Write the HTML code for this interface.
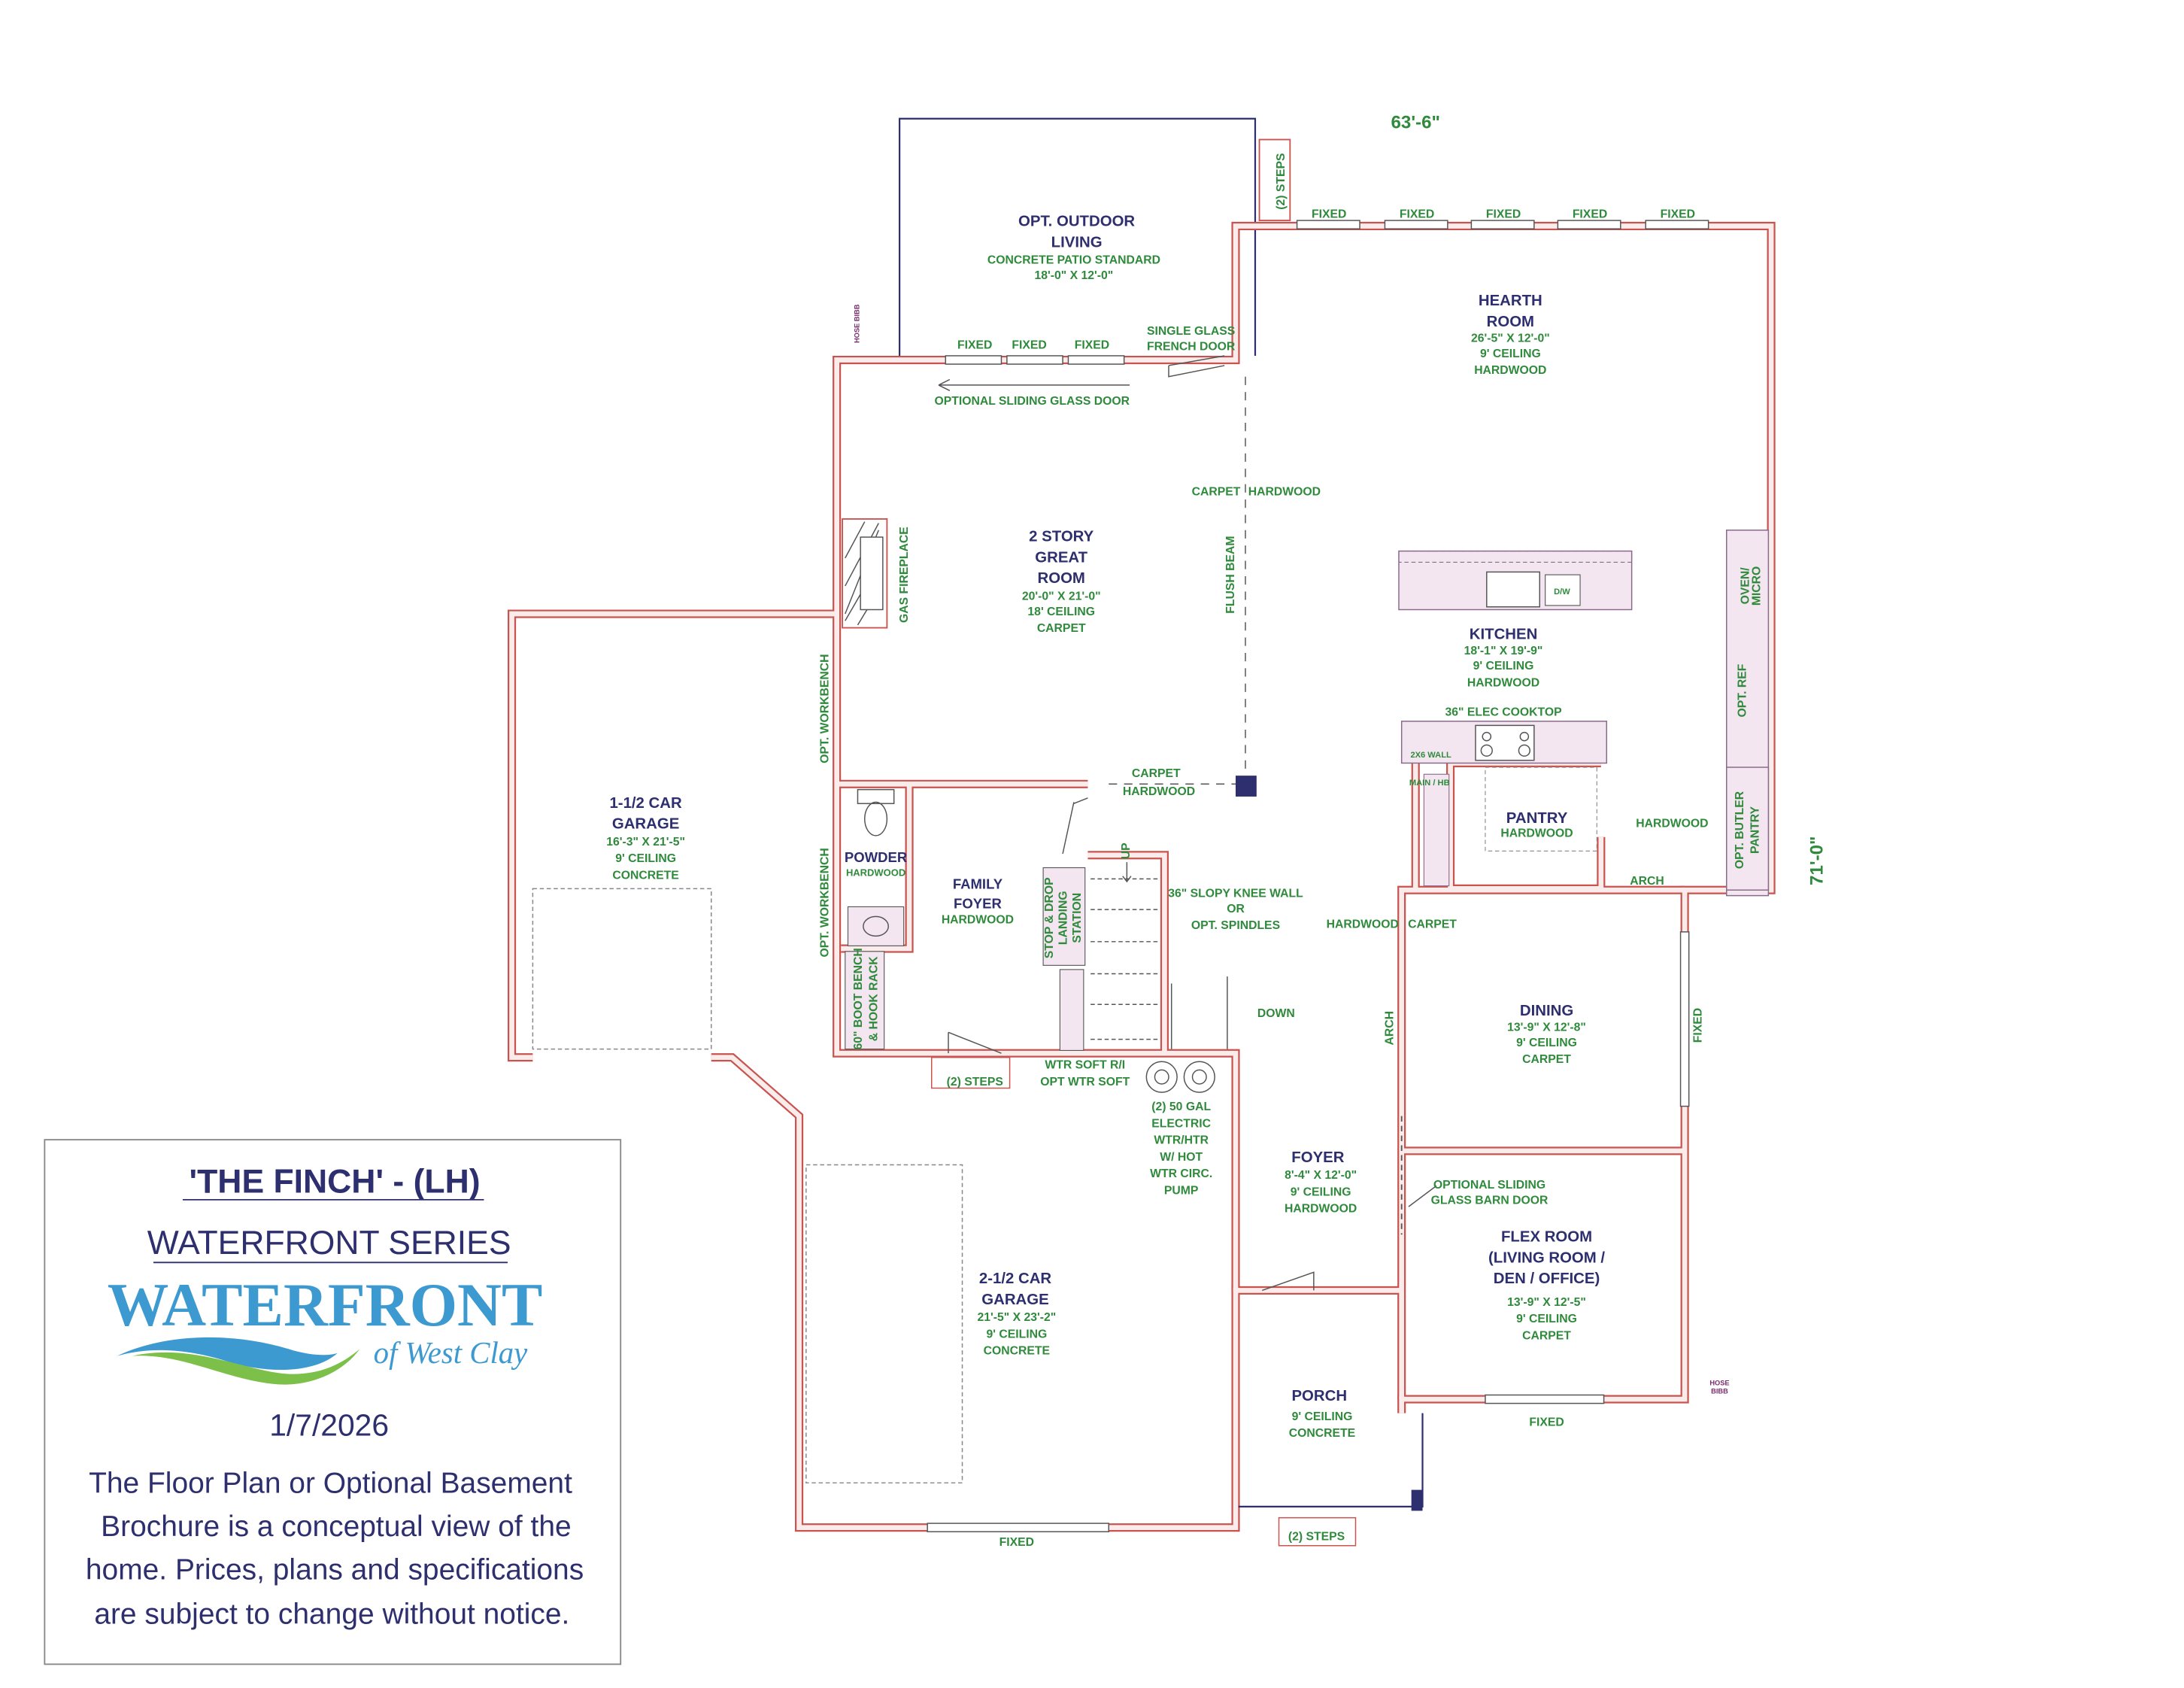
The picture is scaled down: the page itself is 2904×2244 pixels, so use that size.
<!DOCTYPE html>
<html><head><meta charset="utf-8"><style>
html,body{margin:0;padding:0;background:#fff}
svg{display:block}
.g{fill:#2f8a3c;font-family:"Liberation Sans Narrow","Liberation Sans",sans-serif;font-weight:bold;font-size:8.5px;text-anchor:middle}
.n{fill:#2e2f6e;font-family:"Liberation Sans Narrow","Liberation Sans",sans-serif;font-weight:bold;font-size:11px;text-anchor:middle}
.w{fill:none;stroke:#c9534f;stroke-width:6}
.wi{fill:none;stroke:#fbecec;stroke-width:3.6}
.t{fill:none;stroke:#555;stroke-width:0.8}
.d{fill:none;stroke:#555;stroke-width:0.8;stroke-dasharray:6 5}
</style></head><body>
<svg width="2904" height="2244" viewBox="0 0 1566 1210" xmlns="http://www.w3.org/2000/svg">
<rect width="1566" height="1210" fill="#fff"/>
<path d="M645,255 V85 H900 V255" fill="none" stroke="#2e2f6e" stroke-width="1.2"/>
<rect x="903" y="100" width="22" height="58" fill="none" stroke="#c9534f" stroke-width="1"/>
<g>
<path class="w" d="M600,440 V258 H886 V162 H1270 V638 H1208 V1003 H1005 V1013"/>
<path class="w" d="M1005,1003 V638 H1208"/>
<path class="w" d="M1005,825 H1208"/>
<path class="w" d="M600,440 H367 V758 H382 M510,758 H525 L573,800 V1095 H886 V925 H1005"/>
<path class="w" d="M600,440 V755 H886 V925"/>
<path class="w" d="M600,562 H780"/>
<path class="w" d="M652,562 V680 H603"/>
<path class="w" d="M780,613 H835 V755"/>
<path class="w" d="M1040,547 H1148 M1040,547 V637 H1148 V600"/>
<path class="w" d="M1015,547 V637"/>
</g>
<g>
<path class="wi" d="M600,440 V258 H886 V162 H1270 V638 H1208 V1003 H1005 V1013"/>
<path class="wi" d="M1005,1003 V638 H1208"/>
<path class="wi" d="M1005,825 H1208"/>
<path class="wi" d="M600,440 H367 V758 H382 M510,758 H525 L573,800 V1095 H886 V925 H1005"/>
<path class="wi" d="M600,440 V755 H886 V925"/>
<path class="wi" d="M600,562 H780"/>
<path class="wi" d="M652,562 V680 H603"/>
<path class="wi" d="M780,613 H835 V755"/>
<path class="wi" d="M1040,547 H1148 M1040,547 V637 H1148 V600"/>
<path class="wi" d="M1015,547 V637"/>
</g>
<rect x="382" y="637" width="128" height="115" fill="none" stroke="#888" stroke-width="0.8" stroke-dasharray="3 2"/>
<rect x="578" y="835" width="112" height="228" fill="none" stroke="#888" stroke-width="0.8" stroke-dasharray="3 2"/>
<g fill="#fff" stroke="#555" stroke-width="0.8">
<rect x="930" y="158" width="45" height="6"/><rect x="993" y="158" width="45" height="6"/><rect x="1055" y="158" width="45" height="6"/><rect x="1117" y="158" width="45" height="6"/><rect x="1180" y="158" width="45" height="6"/>
<rect x="678" y="255" width="40" height="6"/><rect x="722" y="255" width="40" height="6"/><rect x="766" y="255" width="40" height="6"/>
<rect x="1065" y="1000" width="85" height="6"/><rect x="665" y="1092" width="130" height="6"/>
<rect x="1205" y="668" width="6" height="125"/>
</g>
<path d="M673,276 H810 M673,276 l8,-4 M673,276 l8,4" class="t"/>
<path d="M838,262 L878,255 M838,262 V270 L878,262" class="t" stroke="#2e2f6e"/>
<rect x="604" y="372" width="32" height="78" fill="none" stroke="#c9534f" stroke-width="1"/>
<path d="M606,440 L630,380 M606,420 L630,375 M606,400 L620,374 M606,445 L632,400 M615,448 L632,420" class="t"/>
<rect x="617" y="385" width="16" height="52" fill="#fff" stroke="#555" stroke-width="0.8"/>
<path d="M893,270 V555" class="d" stroke="#333"/>
<path d="M795,562 H893" class="d" stroke="#333"/>
<rect x="886" y="556" width="15" height="15" fill="#2e2f6e"/>
<rect x="1012" y="1068" width="8" height="15" fill="#2e2f6e"/>
<path d="M1020,1013 V1080 H888" fill="none" stroke="#2e2f6e" stroke-width="1.2"/>
<rect x="1003" y="395" width="167" height="42" fill="#f3e6f1" stroke="#8a6a8a" stroke-width="0.8"/>
<rect x="1003" y="395" width="167" height="8" fill="none" stroke="#8a6a8a" stroke-width="0.6" stroke-dasharray="3 2"/>
<rect x="1066" y="410" width="38" height="25" fill="#fff" stroke="#555" stroke-width="0.8"/>
<rect x="1108" y="412" width="25" height="22" fill="#fff" stroke="#555" stroke-width="0.6"/>
<text class="g" x="1120" y="426" style="font-size:6px">D/W</text>
<rect x="1005" y="517" width="147" height="30" fill="#f3e6f1" stroke="#8a6a8a" stroke-width="0.8"/>
<rect x="1058" y="520" width="42" height="25" fill="#fff" stroke="#555" stroke-width="0.8"/>
<circle cx="1066" cy="538" r="4" class="t"/><circle cx="1093" cy="538" r="4" class="t"/><circle cx="1066" cy="528" r="3" class="t"/><circle cx="1093" cy="528" r="3" class="t"/>
<rect x="1238" y="380" width="30" height="262" fill="#f3e6f1" stroke="#8a6a8a" stroke-width="0.8"/>
<rect x="1238" y="550" width="30" height="88" fill="#f3e6f1" stroke="#8a6a8a" stroke-width="0.8"/>
<rect x="1021" y="555" width="18" height="80" fill="#f3e6f1" stroke="#8a6a8a" stroke-width="0.6"/>
<rect x="1065" y="550" width="80" height="60" fill="none" stroke="#888" stroke-width="0.6" stroke-dasharray="3 2"/>
<rect x="615" y="566" width="26" height="10" class="t"/><ellipse cx="628" cy="587" rx="8" ry="12" class="t"/>
<rect x="608" y="650" width="40" height="28" fill="#f3e6f1" stroke="#555" stroke-width="0.6"/>
<ellipse cx="628" cy="664" rx="9" ry="7" class="t"/>
<rect x="606" y="682" width="28" height="70" fill="#f3e6f1" stroke="#555" stroke-width="0.6"/>
<g class="t" stroke="#c9534f" stroke-dasharray="3 2"><path d="M782,630 H832 M782,652 H832 M782,675 H832 M782,698 H832 M782,720 H832 M782,745 H832"/></g>
<rect x="748" y="622" width="30" height="70" fill="#f3e6f1" stroke="#555" stroke-width="0.6"/>
<rect x="760" y="695" width="17" height="58" fill="#f3e6f1" stroke="#555" stroke-width="0.6"/>
<path d="M808,618 V632 M805,628 l3,4 l3,-4" class="t"/>
<path d="M880,700 V752 M840,705 V752" class="t" stroke="#c9534f"/>
<circle cx="833" cy="772" r="11" class="t"/><circle cx="833" cy="772" r="5" class="t"/>
<circle cx="860" cy="772" r="11" class="t"/><circle cx="860" cy="772" r="5" class="t"/>
<path d="M680,740 L718,755 M680,740 V755 M905,925 L942,912 V925 M770,575 L762,612 M780,572 L770,576" class="t" stroke="#2e2f6e"/>
<rect x="668" y="758" width="56" height="22" fill="none" stroke="#c9534f" stroke-width="0.8"/>
<rect x="917" y="1088" width="55" height="20" fill="none" stroke="#c9534f" stroke-width="0.8"/>
<path d="M1005,800 V885" stroke="#555" stroke-width="1" stroke-dasharray="4 3"/>
<path d="M1010,865 L1030,850" class="t"/>
<text class="n" x="772" y="162">OPT. OUTDOOR</text><text class="n" x="772" y="177">LIVING</text>
<text class="g" x="770" y="189">CONCRETE PATIO STANDARD</text><text class="g" x="770" y="200">18'-0" X 12'-0"</text>
<text class="g" x="699" y="250">FIXED</text><text class="g" x="738" y="250">FIXED</text><text class="g" x="783" y="250">FIXED</text>
<text class="g" x="854" y="240">SINGLE GLASS</text><text class="g" x="854" y="251">FRENCH DOOR</text>
<text class="g" x="740" y="290">OPTIONAL SLIDING  GLASS DOOR</text>
<text class="g" x="953" y="156">FIXED</text><text class="g" x="1016" y="156">FIXED</text><text class="g" x="1078" y="156">FIXED</text><text class="g" x="1140" y="156">FIXED</text><text class="g" x="1203" y="156">FIXED</text>
<text x="1015" y="92" style="fill:#2f8a3c;font-family:'Liberation Sans',sans-serif;font-weight:bold;font-size:13px;text-anchor:middle">63'-6"</text>
<text transform="translate(1307,617) rotate(-90)" style="fill:#2f8a3c;font-family:'Liberation Sans',sans-serif;font-weight:bold;font-size:13px;text-anchor:middle">71'-0"</text>
<text transform="translate(921,130) rotate(-90)" class="g">(2) STEPS</text>
<text class="n" x="1083" y="219">HEARTH</text><text class="n" x="1083" y="234">ROOM</text>
<text class="g" x="1083" y="245">26'-5" X 12'-0"</text><text class="g" x="1083" y="256">9' CEILING</text><text class="g" x="1083" y="268">HARDWOOD</text>
<text class="g" x="872" y="355">CARPET</text><text class="g" x="921" y="355">HARDWOOD</text>
<text class="n" x="761" y="388">2 STORY</text><text class="n" x="761" y="403">GREAT</text><text class="n" x="761" y="418">ROOM</text>
<text class="g" x="761" y="430">20'-0" X 21'-0"</text><text class="g" x="761" y="441">18' CEILING</text><text class="g" x="761" y="453">CARPET</text>
<text transform="translate(651,412) rotate(-90)" class="g">GAS FIREPLACE</text>
<text transform="translate(885,412) rotate(-90)" class="g">FLUSH BEAM</text>
<text transform="translate(594,508) rotate(-90)" class="g">OPT. WORKBENCH</text>
<text transform="translate(594,647) rotate(-90)" class="g">OPT. WORKBENCH</text>
<text class="n" x="1078" y="458">KITCHEN</text>
<text class="g" x="1078" y="469">18'-1" X 19'-9"</text><text class="g" x="1078" y="480">9' CEILING</text><text class="g" x="1078" y="492">HARDWOOD</text>
<text class="g" x="1078" y="513">36" ELEC COOKTOP</text>
<text class="g" x="1026" y="543" style="font-size:6px">2X6 WALL</text>
<text class="g" x="1025" y="563" style="font-size:6px">MAIN / HB</text>
<text transform="translate(1254,420) rotate(-90)" class="g">OVEN/</text><text transform="translate(1262,420) rotate(-90)" class="g">MICRO</text>
<text transform="translate(1252,495) rotate(-90)" class="g">OPT. REF</text>
<text transform="translate(1250,595) rotate(-90)" class="g">OPT. BUTLER</text><text transform="translate(1261,595) rotate(-90)" class="g">PANTRY</text>
<text class="n" x="1102" y="590">PANTRY</text><text class="g" x="1102" y="600">HARDWOOD</text>
<text class="g" x="1199" y="593">HARDWOOD</text><text class="g" x="1181" y="634">ARCH</text>
<text class="g" x="829" y="557">CARPET</text><text class="g" x="831" y="570">HARDWOOD</text>
<text class="n" x="463" y="579">1-1/2 CAR</text><text class="n" x="463" y="594">GARAGE</text>
<text class="g" x="463" y="606">16'-3" X 21'-5"</text><text class="g" x="463" y="618">9' CEILING</text><text class="g" x="463" y="630">CONCRETE</text>
<text class="n" x="628" y="618" style="font-size:10px">POWDER</text><text class="g" x="628" y="628" style="font-size:7px">HARDWOOD</text>
<text class="n" x="701" y="637" style="font-size:10px">FAMILY</text><text class="n" x="701" y="651" style="font-size:10px">FOYER</text><text class="g" x="701" y="662">HARDWOOD</text>
<text transform="translate(755,658) rotate(-90)" class="g">STOP &amp; DROP</text><text transform="translate(765,658) rotate(-90)" class="g">LANDING</text><text transform="translate(775,658) rotate(-90)" class="g">STATION</text>
<text transform="translate(810,610) rotate(-90)" class="g">UP</text>
<text transform="translate(618,716) rotate(-90)" class="g">60" BOOT BENCH</text><text transform="translate(629,716) rotate(-90)" class="g">&amp; HOOK RACK</text>
<text class="g" x="886" y="643">36" SLOPY KNEE WALL</text><text class="g" x="886" y="654">OR</text><text class="g" x="886" y="666">OPT. SPINDLES</text>
<text class="g" x="977" y="665">HARDWOOD</text><text class="g" x="1027" y="665">CARPET</text>
<text class="g" x="915" y="729">DOWN</text>
<text class="g" x="699" y="778">(2) STEPS</text>
<text class="g" x="778" y="766">WTR SOFT R/I</text><text class="g" x="778" y="778">OPT WTR SOFT</text>
<text class="g" x="847" y="796">(2) 50 GAL</text><text class="g" x="847" y="808">ELECTRIC</text><text class="g" x="847" y="820">WTR/HTR</text><text class="g" x="847" y="832">W/ HOT</text><text class="g" x="847" y="844">WTR CIRC.</text><text class="g" x="847" y="856">PUMP</text>
<text transform="translate(999,737) rotate(-90)" class="g">ARCH</text>
<text class="n" x="1109" y="728">DINING</text><text class="g" x="1109" y="739">13'-9" X 12'-8"</text><text class="g" x="1109" y="750">9' CEILING</text><text class="g" x="1109" y="762">CARPET</text>
<text transform="translate(1220,735) rotate(-90)" class="g">FIXED</text>
<text class="n" x="945" y="833">FOYER</text><text class="g" x="947" y="845">8'-4" X 12'-0"</text><text class="g" x="947" y="857">9' CEILING</text><text class="g" x="947" y="869">HARDWOOD</text>
<text class="g" x="1068" y="852">OPTIONAL SLIDING</text><text class="g" x="1068" y="863">GLASS BARN DOOR</text>
<text class="n" x="1109" y="890">FLEX ROOM</text><text class="n" x="1109" y="905">(LIVING ROOM /</text><text class="n" x="1109" y="920">DEN / OFFICE)</text>
<text class="g" x="1109" y="936">13'-9" X 12'-5"</text><text class="g" x="1109" y="948">9' CEILING</text><text class="g" x="1109" y="960">CARPET</text>
<text class="n" x="728" y="920">2-1/2 CAR</text><text class="n" x="728" y="935">GARAGE</text>
<text class="g" x="729" y="947">21'-5" X 23'-2"</text><text class="g" x="729" y="959">9' CEILING</text><text class="g" x="729" y="971">CONCRETE</text>
<text class="n" x="946" y="1004">PORCH</text><text class="g" x="948" y="1018">9' CEILING</text><text class="g" x="948" y="1030">CONCRETE</text>
<text class="g" x="1109" y="1022">FIXED</text><text class="g" x="729" y="1108">FIXED</text><text class="g" x="944" y="1104">(2) STEPS</text>
<text class="g" x="1233" y="993" style="font-size:5px;fill:#7a2d6e">HOSE</text><text class="g" x="1233" y="999" style="font-size:5px;fill:#7a2d6e">BIBB</text>
<text transform="translate(616,232) rotate(-90)" class="g" style="font-size:5px;fill:#7a2d6e">HOSE BIBB</text>
<rect x="32" y="817" width="413" height="376" fill="#fff" stroke="#888" stroke-width="1"/>
<text x="240" y="855" style="fill:#2e2f6e;font-family:'Liberation Sans',sans-serif;font-weight:bold;font-size:24px;text-anchor:middle">'THE FINCH' - (LH)</text>
<line x1="131" y1="860" x2="347" y2="860" stroke="#2e2f6e" stroke-width="1"/>
<text x="236" y="899" style="fill:#2e2f6e;font-family:'Liberation Sans',sans-serif;font-size:24px;text-anchor:middle">WATERFRONT SERIES</text>
<line x1="110" y1="905" x2="364" y2="905" stroke="#2e2f6e" stroke-width="1"/>
<text x="233" y="950" style="fill:#3d9ad1;font-family:'Liberation Serif',serif;font-weight:bold;font-size:44px;text-anchor:middle">WATERFRONT</text>
<path d="M84,972 C120,955 170,955 210,968 C225,972 235,972 242,970 C225,985 190,985 160,975 C130,966 105,966 84,972Z" fill="#3d9ad1"/>
<path d="M95,972 C140,962 180,985 210,985 C230,985 245,978 258,967 C245,985 220,995 195,992 C160,988 130,970 95,972Z" fill="#7cc04a"/>
<text x="323" y="977" style="fill:#3d9ad1;font-family:'Liberation Serif',serif;font-style:italic;font-size:22px;text-anchor:middle">of West Clay</text>
<text x="236" y="1029" style="fill:#2e2f6e;font-family:'Liberation Sans',sans-serif;font-size:22px;text-anchor:middle">1/7/2026</text>
<g style="fill:#2e2f6e;font-family:'Liberation Sans',sans-serif;font-size:21px;text-anchor:middle">
<text x="237" y="1070">The Floor Plan or Optional Basement</text>
<text x="241" y="1101">Brochure is a conceptual view of the</text>
<text x="240" y="1132">home. Prices, plans and specifications</text>
<text x="238" y="1164">are subject to change without notice.</text>
</g>
</svg>
</body></html>
